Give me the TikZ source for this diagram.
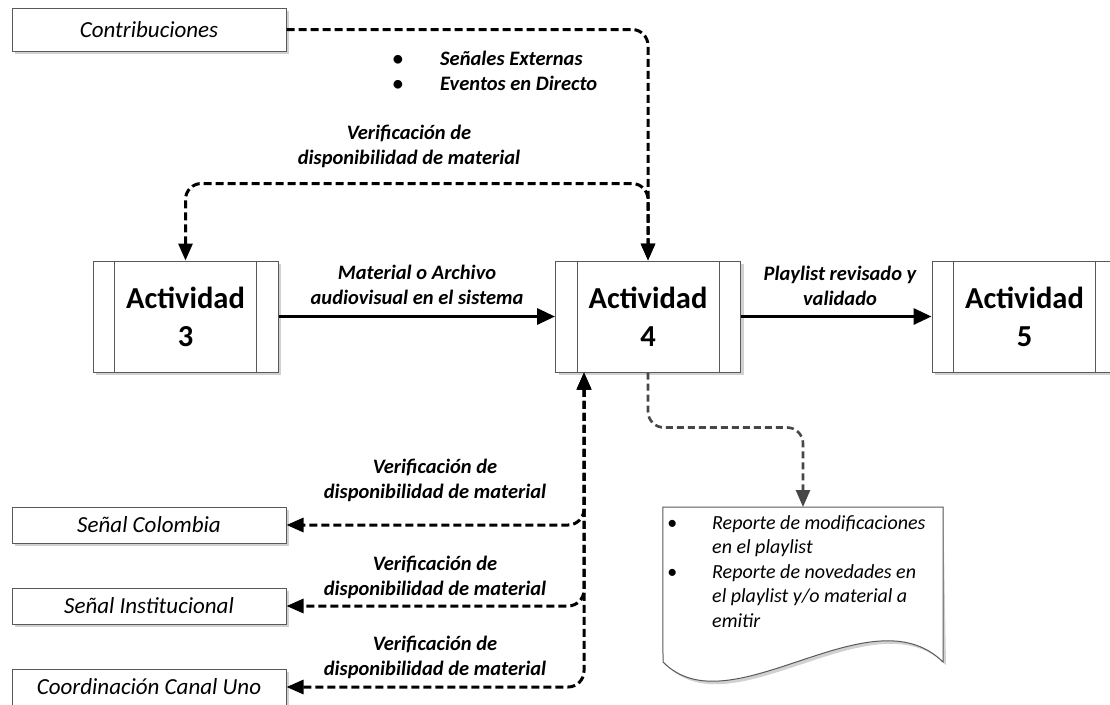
\documentclass[tikz,border=0pt]{standalone}
\usepackage{fontspec}
\setmainfont{Carlito}
\usetikzlibrary{arrows.meta,shadows}
\begin{document}
\begin{tikzpicture}[x=1pt,y=-1pt,
  boxshadow/.style={drop shadow={shadow xshift=3pt,shadow yshift=-3pt,fill=black!18,opacity=1}},
  srcbox/.style={draw=black!65,line width=1pt,fill=white,boxshadow,minimum width=274pt,inner sep=0pt,font=\fontsize{23}{28}\selectfont\itshape},
  actbox/.style={draw=black!65,line width=1pt,fill=white,boxshadow,minimum width=185pt,minimum height=111pt,inner sep=0pt,align=center,font=\fontsize{30.5}{38}\selectfont\bfseries},
  innerline/.style={draw=black!65,line width=1pt},
  lbl/.style={align=center,inner sep=0pt,font=\fontsize{20.5}{25}\selectfont\bfseries\itshape},
  blt/.style={anchor=base,inner sep=0pt,font=\fontsize{20.5}{25}\selectfont\bfseries},
  bltxt/.style={anchor=base west,inner sep=0pt,font=\fontsize{20.5}{25}\selectfont\bfseries\itshape},
  doctxt/.style={anchor=base west,inner sep=0pt,font=\fontsize{20}{24.5}\selectfont\itshape},
  flow/.style={line width=3.2pt,>={Triangle[length=18pt,width=16pt]},->},
  dlink/.style={line width=3pt,dash pattern=on 8pt off 4pt,rounded corners=16pt,>={Triangle[length=17pt,width=14pt]}},
  glink/.style={line width=2.6pt,draw=black!72,dash pattern=on 7pt off 4pt,rounded corners=16pt,>={Triangle[length=17pt,width=14pt]}},
  docshape/.style={draw=black!65,line width=1pt,fill=white},
]
\useasboundingbox (0,0) rectangle (1110,704);
\fill[white] (0,0) rectangle (1110,704);

% source / sink boxes
\node[srcbox,minimum height=43pt] (contrib) at (149,29.5) {Contribuciones};
\node[srcbox,minimum height=36pt] (sc) at (149,525) {Señal Colombia};
\node[srcbox,minimum height=36pt] (si) at (149,606) {Señal Institucional};
\node[srcbox,minimum height=36pt] (cu) at (149,687) {Coordinación Canal Uno};

% activities
\node[actbox] (a3) at (185.5,316.5) {Actividad\\3};
\node[actbox] (a4) at (648,316.5) {Actividad\\4};
\node[actbox] (a5) at (1024.5,316.5) {Actividad\\5};
\foreach \n in {a3,a4,a5}{
  \draw[innerline] ([xshift=22pt]\n.north west) -- ([xshift=22pt]\n.south west);
  \draw[innerline] ([xshift=-22pt]\n.north east) -- ([xshift=-22pt]\n.south east);
}

% document
\node[inner sep=0pt,minimum width=280pt,minimum height=155pt,anchor=north] (doc) at (803,507) {};
\fill[black!18,shift={(3,3)}] (doc.north west) -- (doc.north east) -- (943,662) .. controls (870,590) and (730,730) .. (663,662) -- cycle;
\draw[docshape] (doc.north west) -- (doc.north east) -- (943,662) .. controls (870,590) and (730,730) .. (663,662) -- cycle;
\node[doctxt,anchor=base] (db1) at (672,529) {•};
\node[doctxt] (dr1) at (712,529) {Reporte de modificaciones};
\node[doctxt] (dr2) at (712,553.5) {en el playlist};
\node[doctxt,anchor=base] (db2) at (672,578) {•};
\node[doctxt] (dr3) at (712,578) {Reporte de novedades en};
\node[doctxt] (dr4) at (712,602.5) {el playlist y/o material a};
\node[doctxt] (dr5) at (712,627) {emitir};

% solid flows
\draw[flow] (a3.east) -- (a4.west);
\draw[flow] (a4.east) -- (a5.west);
\node[lbl] (l34) at (417,284.5) {Material o Archivo\\audiovisual en el sistema};
\node[lbl] (l45) at (840,286) {Playlist revisado y\\validado};

% dashed links
\draw[dlink,->] (contrib.east) -| (a4.north);
\node[blt] (tb1) at (398,65) {•};
\node[bltxt] (tt1) at (440,65) {Señales Externas};
\node[blt] (tb2) at (398,90) {•};
\node[bltxt] (tt2) at (440,90) {Eventos en Directo};

\draw[dlink,<->] (a3.north) -- ++(0,-77) -| (a4.north);
\node[lbl] (vtop) at (409,146) {Verificación de\\disponibilidad de material};

\draw[dlink,<->] ([xshift=29pt]a4.south west) |- (sc.east);
\draw[dlink,<->] ([xshift=29pt]a4.south west) |- (si.east);
\draw[dlink,<->] ([xshift=29pt]a4.south west) |- (cu.east);
\node[lbl] (v1) at (435,480.5) {Verificación de\\disponibilidad de material};
\node[lbl] (v2) at (435,577) {Verificación de\\disponibilidad de material};
\node[lbl] (v3) at (435,657.5) {Verificación de\\disponibilidad de material};

% gray link to document
\draw[glink,->] (a4.south) -- ++(0,55) -| (doc.north);
\end{tikzpicture}
\end{document}
